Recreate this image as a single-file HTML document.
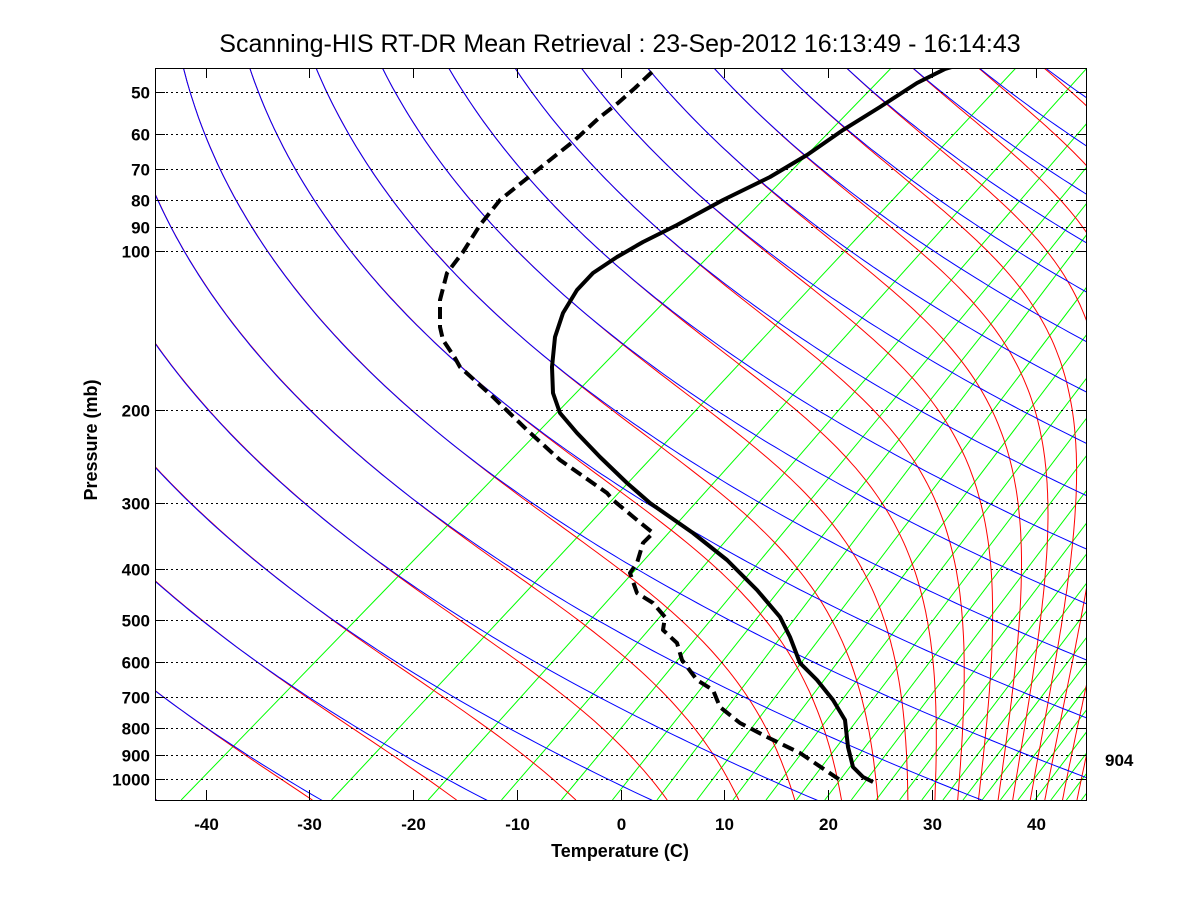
<!DOCTYPE html>
<html><head><meta charset="utf-8"><style>
html,body{margin:0;padding:0;background:#fff;}
svg{display:block;}
text{font-family:"Liberation Sans",Arial,sans-serif;}
.tl{font-size:17px;font-weight:bold;}
</style></head><body>
<svg id="s" width="1200" height="900" viewBox="0 0 1200 900" xmlns="http://www.w3.org/2000/svg">
<rect width="1200" height="900" fill="#fff"/>
<defs><clipPath id="c"><rect x="155" y="68" width="931" height="732"/></clipPath></defs>
<g id="bg" clip-path="url(#c)" fill="none" stroke-width="1"></g>
<g id="grid" fill="none" stroke="#000" stroke-width="1" stroke-dasharray="2,3"></g>
<g clip-path="url(#c)" fill="none" stroke="#000" stroke-linejoin="round">
<polyline stroke-width="4" points="955,66 945,69 917,83 880,107 843,130 807,155 770,177 723,200 677,225 643,242 617,257 593,273 577,290 563,313 555,337 552,367 553,393 560,413 577,433 600,457 627,483 650,503 693,533 727,560 757,590 780,617 790,637 800,663 817,680 833,700 845,720 848,747 853,767 863,777 873,782"/>
<polyline stroke-width="4" stroke-dasharray="12,6" points="652,72 635,88 618,103 600,117 575,140 550,160 525,180 500,200 480,225 463,252 447,273 440,300 440,327 443,340 455,358 460,367 493,397 527,430 560,460 607,493 613,500 637,520 653,533 643,543 637,563 630,573 637,593 653,603 665,617 663,630 677,643 682,660 697,680 713,690 720,707 740,723 767,737 800,753 840,780"/>
</g>
<rect x="155.5" y="68.5" width="931" height="732" fill="none" stroke="#000" stroke-width="1"/>
<g id="ticks" stroke="#000" stroke-width="1"></g>
<g id="labels" class="tl" fill="#000"></g>
<text x="620" y="52" font-size="25" text-anchor="middle">Scanning-HIS RT-DR Mean Retrieval : 23-Sep-2012 16:13:49 - 16:14:43</text>
<text x="620" y="857" font-size="18" font-weight="bold" text-anchor="middle">Temperature (C)</text>
<text x="0" y="0" font-size="18" font-weight="bold" text-anchor="middle" transform="translate(97,440) rotate(-90)">Pressure (mb)</text>
<text x="1105" y="766" class="tl">904</text>
</svg>
<script>
(function(){
var NS="http://www.w3.org/2000/svg";
function X(T,p){return 620.5+10.375*T+328*Math.log(1096/p);}
function Y(p){return 251+528*Math.log10(p/100);}
function line(g,pts,col){var e=document.createElementNS(NS,"polyline");
 e.setAttribute("points",pts.map(function(q){return q[0].toFixed(1)+","+q[1].toFixed(1);}).join(" "));
 e.setAttribute("stroke",col);g.appendChild(e);}
var bg=document.getElementById("bg");
var ps=[];var N=220;for(var i=0;i<=N;i++){ps.push(1110*Math.pow(43/1110,i/N));}
// green mixing ratio (straight)
for(var n=1;n<=27;n++){var sw=0.305*n-0.015;var w=sw*sw/1000;var p=1096;
 var e=w*p/(0.622+w);var L=Math.log(e/6.112);var T=243.5*L/(17.67-L);var xb=X(T,p);
 var s=Math.max(0.76,0.97-0.035*(n-1));
 line(bg,[[xb,800],[xb+s*732,68]],"#00ff00");}
// red moist adiabats
var LV=2.5e6;
function f(T,p){var Tc=T-273.15;var es=6.112*Math.exp(17.67*Tc/(Tc+243.5));var rs=0.622*es/Math.max(p-es,1e-3);
 return (287*T+LV*rs)/(1004+LV*LV*rs*0.622/(287*T*T));}
function integ(T0,keep){var T=T0+273.15;var lp=Math.log(1096);var lpe=Math.log(43);var M=300;var h=(lpe-lp)/M;
 var pts=keep?[[X(T0,1096),Y(1096)]]:null;
 for(var k=0;k<M;k++){var k1=f(T,Math.exp(lp));var k2=f(T+h/2*k1,Math.exp(lp+h/2));var k3=f(T+h/2*k2,Math.exp(lp+h/2));var k4=f(T+h*k3,Math.exp(lp+h));
  T+=h/6*(k1+2*k2+2*k3+k4);lp+=h;if(keep&&k%2==1)pts.push([X(T-273.15,Math.exp(lp)),Y(Math.exp(lp))]);}
 return keep?pts:T*Math.pow(1000/43,0.2857);}
var starts=[-44.7,-29.7,-15.8,-4.3,4.5,11.4,16.8,21.3,24.8,27.7,30.3,32.5,34.5,36.4,37.8,39.5,40.9,42.6,44.0,45.3,46.5,47.6,48.6,49.5,50.4,51.2];
starts.forEach(function(T0,i){var th=238+15.5*(i-1);var lo=1.5e6,hi=4.0e6;
 for(var it=0;it<26;it++){LV=(lo+hi)/2;if(integ(T0,false)<th)lo=LV;else hi=LV;}
 LV=(lo+hi)/2;line(bg,integ(T0,true),"#ff0000");});
// blue dry adiabats
for(var n=-1;n<=20;n++){var th=238+15.5*n;var pts=[];
 ps.forEach(function(p){var T=th*Math.pow(p/1000,0.2857)-273.15;pts.push([X(T,p),Y(p)]);});
 line(bg,pts,"#0000ff");}
// grid, ticks, labels
var grid=document.getElementById("grid"),tk=document.getElementById("ticks"),lb=document.getElementById("labels");
var lev=[50,60,70,80,90,100,200,300,400,500,600,700,800,900,1000];
function seg(g,x1,y1,x2,y2){var e=document.createElementNS(NS,"line");e.setAttribute("x1",x1);e.setAttribute("y1",y1);e.setAttribute("x2",x2);e.setAttribute("y2",y2);g.appendChild(e);}
function txt(x,y,s,a){var e=document.createElementNS(NS,"text");e.setAttribute("x",x);e.setAttribute("y",y);e.setAttribute("text-anchor",a);e.textContent=s;lb.appendChild(e);}
lev.forEach(function(p){var y=Math.round(Y(p))+0.5;seg(grid,156,y,1086,y);seg(tk,155,y,165,y);seg(tk,1076,y,1086,y);txt(150,y+6,String(p),"end");});
for(var T=-40;T<=40;T+=10){var x=Math.round(620.5+10.375*T)+0.5;seg(tk,x,800,x,790);seg(tk,x,68,x,78);txt(x,830,String(T),"middle");}
})();
</script>
</body></html>
